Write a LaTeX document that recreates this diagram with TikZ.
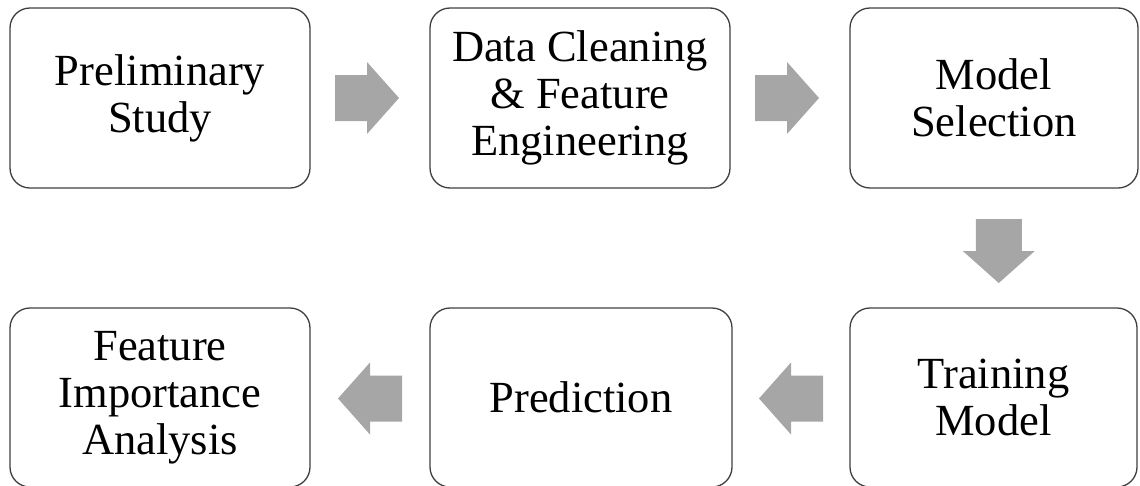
\documentclass[tikz,border=0pt]{standalone}
\usepackage{fontspec}
\setmainfont{Liberation Serif}
\usetikzlibrary{calc}
\definecolor{boxline}{HTML}{404040}
\definecolor{arrowfill}{HTML}{A6A6A6}
\newcommand\blockarrow[2]{\fill[arrowfill,shift={(#1)},rotate=#2] (-32,23) -- (0,23) -- (0,36) -- (32,0) -- (0,-36) -- (0,-23) -- (-32,-23) -- cycle;}
\begin{document}
\begin{tikzpicture}[x=1pt,y=1pt,
  stepbox/.style={draw=boxline,line width=1.3pt,rounded corners=20pt,fill=white,
    minimum height=180pt,inner sep=0pt,align=center,
    font=\fontsize{44.5}{47}\selectfont}]
\useasboundingbox (0,0) rectangle (1140,-485);
\begin{scope}
\clip (0,0) rectangle (1140,-485);
\node[stepbox,minimum width=300pt] (b1) at (160,-98) {Preliminary\\Study};
\node[stepbox,minimum width=300pt] (b2) at (580,-98) {Data Cleaning\\\& Feature\\Engineering};
\node[stepbox,minimum width=288pt] (b3) at (994,-98) {Model\\Selection};
\node[stepbox,minimum width=300pt,minimum height=179pt] (b4) at (160,-397.5) {Feature\\Importance\\Analysis};
\node[stepbox,minimum width=302pt,minimum height=179pt] (b5) at (581,-397.5) {Prediction};
\node[stepbox,minimum width=287pt,minimum height=179pt] (b6) at (993.5,-397.5) {Training\\Model};
\path ($(b1.east)!0.5!(b2.west)$) ++(-3,0) coordinate (a12);
\path ($(b2.east)!0.5!(b3.west)$) ++(-3,0) coordinate (a23);
\path ($(b3.south)!0.5!(b6.north)$) ++(5,-3) coordinate (a36);
\path ($(b6.west)!0.5!(b5.east)$) ++(0,-1) coordinate (a65);
\path ($(b5.west)!0.5!(b4.east)$) ++(0,-1) coordinate (a54);
\blockarrow{a12}{0}
\blockarrow{a23}{0}
\blockarrow{a36}{-90}
\blockarrow{a65}{180}
\blockarrow{a54}{180}
\end{scope}
\end{tikzpicture}
\end{document}
